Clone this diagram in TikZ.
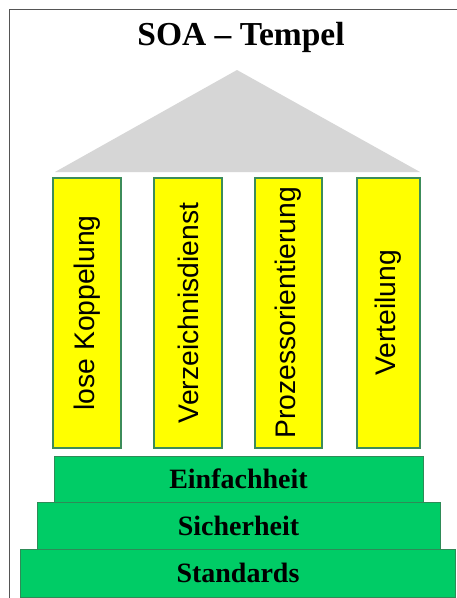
\documentclass[tikz,border=0pt]{standalone}
\usepackage{fontspec}
\setmainfont{Liberation Serif}
\newfontfamily\pillarfont{Liberation Sans}
\definecolor{roofgray}{HTML}{D6D6D6}
\definecolor{pillarfill}{HTML}{FFFF00}
\definecolor{pillarline}{HTML}{3C8C5A}
\definecolor{stepfill}{HTML}{00CC66}
\definecolor{stepline}{HTML}{2E8B57}
\definecolor{framegray}{HTML}{555555}
\tikzset{
  pillar/.style={draw=pillarline, line width=1.5pt, fill=pillarfill},
  pillartext/.style={rotate=90, font=\pillarfont\fontsize{28.3}{28.3}\selectfont, inner sep=0pt},
  stepbox/.style={draw=stepline, line width=0.8pt, fill=stepfill},
  steptext/.style={font=\bfseries\fontsize{28}{28}\selectfont, inner sep=0pt},
}
\begin{document}
\begin{tikzpicture}[x=1pt, y=-1pt]
\useasboundingbox (0,0) rectangle (457,598);
\fill[white] (0,0) rectangle (457,598);
% outer frame (top and left edges)
\draw[framegray, line width=1pt] (9,598) -- (9,9.5) -- (457,9.5);
% title
\node[font=\bfseries\fontsize{33.5}{33.5}\selectfont, anchor=base] (title) at (241,45) {SOA -- Tempel};
% roof
\fill[roofgray] (237,70) -- (420,172) -- (55,172) -- cycle;
% pillars
\draw[pillar] (53,178) rectangle (121,448);
\draw[pillar] (154,178) rectangle (222,448);
\draw[pillar] (255,178) rectangle (322,448);
\draw[pillar] (357,178) rectangle (420,448);
\node[pillartext] (p1) at (87,313) {lose Koppelung};
\node[pillartext] (p2) at (188,313) {Verzeichnisdienst};
\node[pillartext] (p3) at (288.5,313) {Prozessorientierung};
\node[pillartext] (p4) at (388.5,313) {Verteilung};
% steps
\draw[stepbox] (54,456) rectangle (423,502);
\draw[stepbox] (37,502) rectangle (440,549);
\draw[stepbox] (20,549) rectangle (455,597);
\node[steptext] (s1) at (238.5,479) {Einfachheit};
\node[steptext] (s2) at (238.5,526) {Sicherheit};
\node[steptext] (s3) at (238,573) {Standards};
\end{tikzpicture}
\end{document}
